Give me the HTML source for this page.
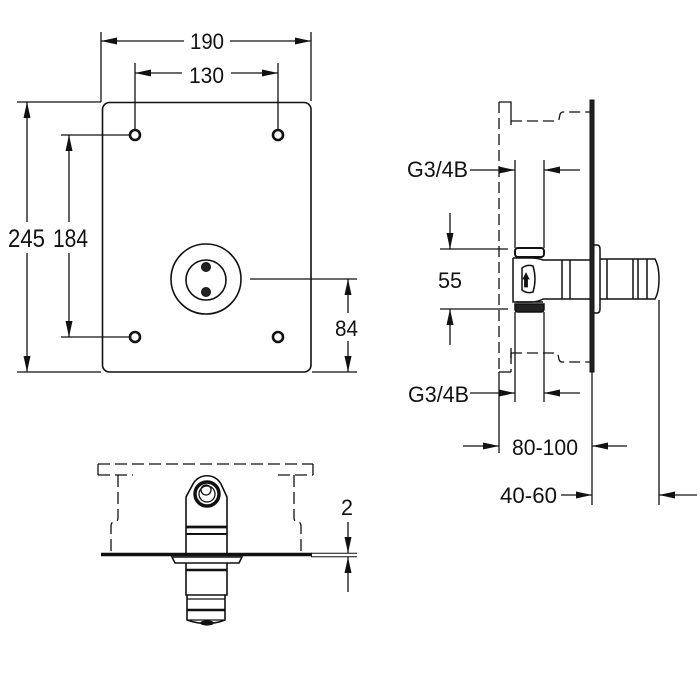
<!DOCTYPE html>
<html><head><meta charset="utf-8"><style>
html,body{margin:0;padding:0;background:#fff;}
svg{display:block;}
text{font-family:"Liberation Sans",Arial,sans-serif;fill:#111;}
</style></head><body>
<svg width="700" height="700" viewBox="0 0 700 700" xmlns="http://www.w3.org/2000/svg">
<rect width="700" height="700" fill="#fff"/>
<g stroke="#111" stroke-width="1.3" fill="none">
<!-- ===== FRONT VIEW ===== -->
<!-- plate -->
<rect x="102.5" y="102.5" width="208.5" height="269.5" rx="7" stroke-width="1.6"/>
<!-- holes -->
<g stroke-width="2.6">
<circle cx="135" cy="135" r="5"/>
<circle cx="278" cy="135" r="5"/>
<circle cx="135" cy="337" r="5"/>
<circle cx="278" cy="337" r="5"/>
</g>
<!-- center circles -->
<circle cx="206" cy="279" r="35" stroke-width="1.6"/>
<circle cx="206" cy="280" r="20" stroke-width="1.6"/>
<circle cx="206" cy="267" r="4.5" fill="#222" stroke-width="1"/>
<circle cx="206" cy="292" r="4.5" fill="#222" stroke-width="1"/>
<!-- 190 dim -->
<line x1="101" y1="32" x2="101" y2="102"/>
<line x1="311" y1="32" x2="311" y2="101"/>
<line x1="101" y1="41" x2="184" y2="41"/>
<line x1="230" y1="41" x2="311" y2="41"/>
<!-- 130 dim -->
<line x1="135" y1="63" x2="135" y2="129"/>
<line x1="278" y1="63" x2="278" y2="129"/>
<line x1="135" y1="73" x2="182" y2="73"/>
<line x1="231" y1="73" x2="278" y2="73"/>
<!-- 245 dim -->
<line x1="17" y1="102" x2="101" y2="102"/>
<line x1="17" y1="372" x2="101" y2="372"/>
<line x1="27" y1="102" x2="27" y2="222"/>
<line x1="27" y1="253" x2="27" y2="372"/>
<!-- 184 dim -->
<line x1="61" y1="135" x2="129" y2="135"/>
<line x1="61" y1="337" x2="129" y2="337"/>
<line x1="69" y1="135" x2="69" y2="222"/>
<line x1="69" y1="253" x2="69" y2="337"/>
<!-- 84 dim -->
<line x1="250" y1="279" x2="357" y2="279"/>
<line x1="312" y1="372" x2="357" y2="372"/>
<line x1="348" y1="279" x2="348" y2="313"/>
<line x1="348" y1="341" x2="348" y2="372"/>

<!-- ===== SIDE VIEW ===== -->
<!-- wall dashed -->
<g stroke-dasharray="11,5">
<line x1="499" y1="102" x2="499" y2="372"/>
<line x1="511" y1="353" x2="511" y2="372"/>
<path d="M511,121 L557,121 Q559,121 559.5,117 Q560,112 563,112 L592,112"/>
<path d="M511,353 L556,353 Q558,353 558.5,357 Q559,362 562,362 L592,362"/>
</g>
<path d="M499,102 L511,102 L511,125"/>
<line x1="499" y1="372" x2="511" y2="372"/>
<line x1="511" y1="348" x2="511" y2="358"/>
<line x1="499" y1="372" x2="499" y2="453"/>
<!-- plate -->
<rect x="590" y="100" width="4" height="272" fill="#222" stroke-width="1"/>
<!-- ext lines -->
<line x1="515" y1="160" x2="515" y2="248"/>
<line x1="544" y1="160" x2="544" y2="248"/>
<line x1="515" y1="312" x2="515" y2="402"/>
<line x1="544" y1="312" x2="544" y2="402"/>
<line x1="592" y1="372" x2="592" y2="505"/>
<line x1="659" y1="300" x2="659" y2="505"/>
<!-- G3/4B arrows -->
<line x1="470" y1="170" x2="515" y2="170"/>
<line x1="544" y1="170" x2="580" y2="170"/>
<line x1="470" y1="393" x2="515" y2="393"/>
<line x1="544" y1="393" x2="580" y2="393"/>
<!-- 55 -->
<line x1="440" y1="249" x2="508" y2="249"/>
<line x1="440" y1="309" x2="508" y2="309"/>
<line x1="450" y1="213" x2="450" y2="249"/>
<line x1="450" y1="309" x2="450" y2="345"/>
<!-- 80-100 -->
<line x1="463" y1="446" x2="499" y2="446"/>
<line x1="592" y1="446" x2="627" y2="446"/>
<!-- 40-60 -->
<line x1="561" y1="495" x2="592" y2="495"/>
<line x1="659" y1="495" x2="697" y2="495"/>

<!-- fitting side -->
<g stroke-width="1.5">
<rect x="515" y="248" width="29" height="9" rx="3" stroke-width="2"/>
<path d="M515,304 L544,304 L544,309 Q544,312 541,312 L518,312 Q515,312 515,309 Z" fill="#222" stroke-width="1.5"/>
<path d="M513,258 L531,258 Q538,258 543,260 L590,260"/>
<path d="M513,258 L513,302 L531,302 Q538,302 543,299 L590,299"/>
<line x1="516" y1="302" x2="543" y2="302" stroke-width="1.5"/>
<path d="M522,268 Q527,264 533,266 Q537,279 533,292 Q527,294 522,290 Z"/>
<path d="M526,273 L529,279 L527.5,279 L527.5,287 L524.5,287 L524.5,279 L523,279 Z" fill="#111" stroke-width="0.8"/>
<line x1="562" y1="260" x2="562" y2="299"/>
<line x1="570" y1="260" x2="570" y2="299"/>
<path d="M594,245 L597,245 Q600,245 600,249 L600,309 Q600,313 597,313 L594,313"/>
<path d="M600,259 L655,259 Q659,266 659,279 Q659,292 655,299 L600,299"/>
<line x1="607" y1="259" x2="607" y2="299"/>
<line x1="633" y1="259" x2="633" y2="299"/>
<line x1="638" y1="259" x2="638" y2="299"/>
<line x1="647" y1="259" x2="647" y2="299"/>
</g>

<!-- ===== BOTTOM VIEW ===== -->
<g stroke-dasharray="12,5">
<line x1="98" y1="464" x2="313" y2="464"/>
<line x1="98" y1="475" x2="133" y2="475"/>
<line x1="278" y1="475" x2="313" y2="475"/>
<path d="M118,475 L118,518 Q118,522 113,522 Q111,523 111,527 L111,553"/>
<path d="M294,475 L294,518 Q294,522 299,522 Q301,523 301,527 L301,553"/>
</g>
<line x1="98" y1="464" x2="98" y2="475"/>
<line x1="313" y1="464" x2="313" y2="475"/>
<!-- plate -->
<line x1="101" y1="554.5" x2="312" y2="554.5" stroke-width="3.5"/>
<line x1="311" y1="553.3" x2="357" y2="553.3" stroke-width="1"/>
<line x1="311" y1="556.7" x2="357" y2="556.7" stroke-width="1"/>
<!-- dim 2 -->
<line x1="348" y1="522" x2="348" y2="553"/>
<line x1="348" y1="557" x2="348" y2="592"/>
<!-- fitting bottom view -->
<g stroke-width="1.6">
<path d="M186,553 L186,497 L193,484 A16,16 0 0 1 221,484 L227,497 L227,553"/>
<circle cx="207" cy="494" r="12" stroke-width="3.5"/>
<circle cx="207" cy="494" r="8" stroke-width="1.3"/>
<circle cx="206" cy="490" r="5" stroke-width="1.3"/>
<line x1="186" y1="527" x2="227" y2="527" stroke-width="2.8"/>
<line x1="186" y1="534" x2="227" y2="534" stroke-width="2"/>
<path d="M172,557 L242,557 L239,563 L175,563 Z"/>
<path d="M186,563 L186,595 L227,595 L227,563"/>
<line x1="186" y1="570" x2="227" y2="570" stroke-width="2.5"/>
<path d="M187,595 L187,620 Q207,627 225,620 L225,595"/>
<line x1="187" y1="599" x2="225" y2="599" stroke-width="1.2"/>
<line x1="187" y1="610" x2="225" y2="610" stroke-width="2.5"/>
<line x1="187" y1="620" x2="225" y2="620" stroke-width="1.2"/>
<ellipse cx="207" cy="623" rx="6" ry="1.8" fill="#111"/>
</g>
</g>

<!-- arrowheads -->
<g fill="#111" stroke="none">
<polygon points="101,41 117,37.5 117,44.5"/>
<polygon points="311,41 295,37.5 295,44.5"/>
<polygon points="135,73 151,69.5 151,76.5"/>
<polygon points="278,73 262,69.5 262,76.5"/>
<polygon points="27,102 23.5,118 30.5,118"/>
<polygon points="27,372 23.5,356 30.5,356"/>
<polygon points="69,135 65.5,151 72.5,151"/>
<polygon points="69,337 65.5,321 72.5,321"/>
<polygon points="348,279 344.5,295 351.5,295"/>
<polygon points="348,372 344.5,356 351.5,356"/>
<polygon points="515,170 499,166.5 499,173.5"/>
<polygon points="544,170 560,166.5 560,173.5"/>
<polygon points="515,393 499,389.5 499,396.5"/>
<polygon points="544,393 560,389.5 560,396.5"/>
<polygon points="450,249 446.5,233 453.5,233"/>
<polygon points="450,309 446.5,325 453.5,325"/>
<polygon points="499,446 483,442.5 483,449.5"/>
<polygon points="592,446 608,442.5 608,449.5"/>
<polygon points="592,495 576,491.5 576,498.5"/>
<polygon points="659,495 675,491.5 675,498.5"/>
<polygon points="348,553 344.5,537 351.5,537"/>
<polygon points="348,557 344.5,573 351.5,573"/>
</g>

<!-- labels -->
<g font-size="22">
<text x="190" y="49" textLength="34" lengthAdjust="spacingAndGlyphs">190</text>
<text x="189" y="83" textLength="35" lengthAdjust="spacingAndGlyphs">130</text>
<text x="8" y="247" font-size="25" textLength="37" lengthAdjust="spacingAndGlyphs">245</text>
<text x="53" y="247" font-size="25" textLength="35" lengthAdjust="spacingAndGlyphs">184</text>
<text x="335" y="336" textLength="23" lengthAdjust="spacingAndGlyphs">84</text>
<text x="407" y="177" textLength="61" lengthAdjust="spacingAndGlyphs">G3/4B</text>
<text x="408" y="402" textLength="61" lengthAdjust="spacingAndGlyphs">G3/4B</text>
<text x="438" y="288" textLength="24" lengthAdjust="spacingAndGlyphs">55</text>
<text x="512" y="455" textLength="66" lengthAdjust="spacingAndGlyphs">80-100</text>
<text x="500" y="503" textLength="57" lengthAdjust="spacingAndGlyphs">40-60</text>
<text x="341" y="515" textLength="12" lengthAdjust="spacingAndGlyphs">2</text>
</g>
</svg>
</body></html>
